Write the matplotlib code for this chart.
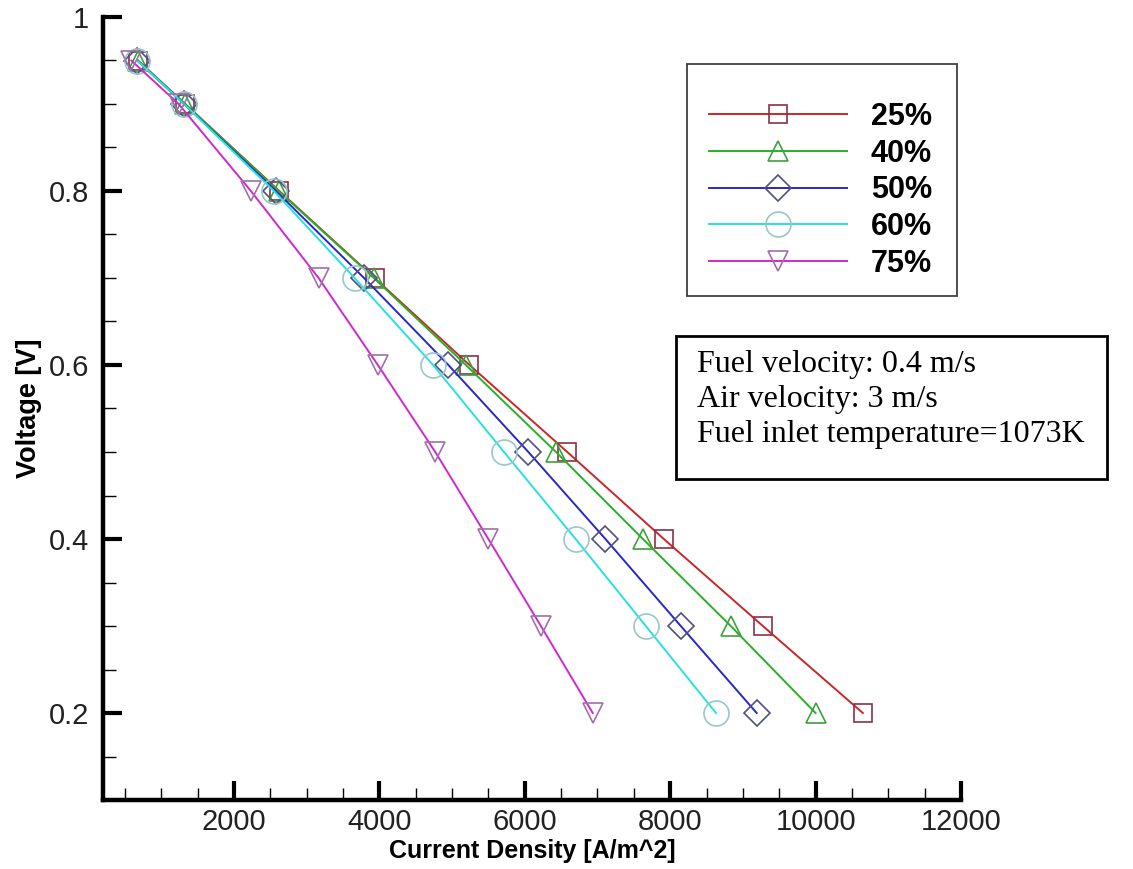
import matplotlib
matplotlib.use("Agg")
import matplotlib.pyplot as plt
from matplotlib.patches import Rectangle
from matplotlib.ticker import MultipleLocator

voltage = [0.95, 0.9, 0.8, 0.7, 0.6, 0.5, 0.4, 0.3, 0.2]
labels = ["25%", "40%", "50%", "60%", "75%"]
cd_25 = [680, 1330, 2625, 3935, 5240, 6585, 7913, 9275, 10650]
cd_40 = [680, 1330, 2615, 3925, 5190, 6430, 7625, 8833, 10000]
cd_50 = [670, 1315, 2580, 3790, 4950, 6050, 7110, 8146, 9190]
cd_60 = [670, 1315, 2550, 3660, 4740, 5715, 6700, 7665, 8630]
cd_75 = [590, 1240, 2234, 3165, 3980, 4770, 5500, 6222, 6935]

line_colors = ["#c82828", "#28b028", "#2828c8", "#28e0e0", "#d028d0"]
edge_colors = ["#8a3048", "#40a040", "#505080", "#98c8c8", "#a070a8"]
markers = ["s", "^", "D", "o", "v"]
msizes = [13, 15, 13, 18, 15]

plt.rcParams["font.family"] = ["Liberation Sans", "DejaVu Sans"]

W, H = 1133, 869
fig = plt.figure(figsize=(W / 100, H / 100), dpi=100)
ax = fig.add_axes([103 / W, (H - 800) / H, (961 - 103) / W, (800 - 17) / H])

series = [cd_25, cd_40, cd_50, cd_60, cd_75]
for cd, lab, lc, ec, m, ms in zip(series, labels, line_colors, edge_colors, markers, msizes):
    ax.plot(cd, voltage, color=lc, lw=1.4, marker=m, ms=ms, mfc="none",
            mec=ec, mew=1.2, label=lab)

ax.set_xlim(200, 12000)
ax.set_ylim(0.1, 1.0)
ax.xaxis.set_minor_locator(MultipleLocator(500))
ax.yaxis.set_minor_locator(MultipleLocator(0.05))
ax.set_xticks([2000, 4000, 6000, 8000, 10000, 12000])
ax.set_yticks([0.2, 0.4, 0.6, 0.8, 1.0])
ax.set_yticklabels(["0.2", "0.4", "0.6", "0.8", "1"])

for s in ["top", "right"]:
    ax.spines[s].set_visible(False)
for s in ["left", "bottom"]:
    ax.spines[s].set_linewidth(3.2)
ax.tick_params(which="major", direction="in", length=13.5, width=3, labelsize=21,
               labelcolor="#222222")
ax.tick_params(which="minor", direction="in", length=9, width=1)
ax.tick_params(axis="y", which="major", pad=10)
ax.tick_params(axis="x", which="major", pad=6)

ax.set_xlabel("Current Density [A/m^2]", fontsize=18, fontweight="bold", labelpad=2)
ax.set_ylabel("Voltage [V]", fontsize=19.5, fontweight="bold", labelpad=5)

# legend with a manually drawn frame
fig.patches.append(Rectangle((687 / W, 1 - 296 / H), 270 / W, 232 / H,
                             transform=fig.transFigure, fill=False,
                             ec="#404040", lw=1.3))
leg = ax.legend(loc="upper left", bbox_to_anchor=(709 / W, 1 - 102 / H),
                bbox_transform=fig.transFigure, frameon=False, borderpad=0,
                borderaxespad=0, handlelength=4.5, handletextpad=0.8,
                labelspacing=0.22, numpoints=1,
                prop={"family": "Liberation Sans", "weight": "bold", "size": 22})

# info box
fig.patches.append(Rectangle((676 / W, 1 - 479 / H), 431 / W, 143 / H,
                             transform=fig.transFigure, fill=False,
                             ec="black", lw=2))
fig.text(697 / W, 1 - 350 / H,
         "Fuel velocity: 0.4 m/s\nAir velocity: 3 m/s\nFuel inlet temperature=1073K",
         family="Liberation Serif", fontsize=23, va="top", ha="left",
         linespacing=1.28)

fig.savefig("out.png", dpi=100)
